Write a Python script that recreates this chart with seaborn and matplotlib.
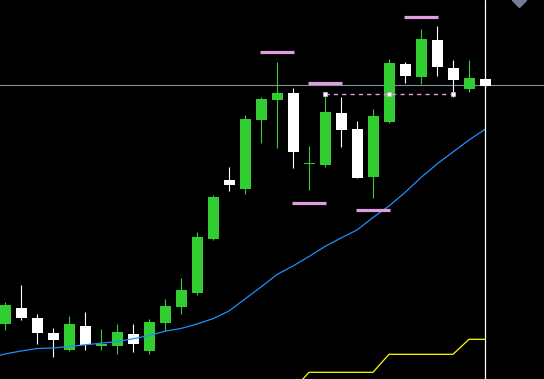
import matplotlib
matplotlib.use("Agg")
import matplotlib.pyplot as plt
import seaborn as sns
import numpy as np
import pandas as pd

# ---- data (price levels) ----
candle_idx = list(range(31))
opens  = [55, 71, 61, 46, 29, 53, 33, 33, 45, 28, 56, 72, 86, 140, 199, 190, 259, 279, 286, 215.5,
          214, 266, 250, 202, 257, 315, 302, 339, 311, 290, 300]
closes = [74, 61, 46, 39, 55, 34, 35, 47, 35, 57, 73, 89, 142, 182, 194, 260, 280, 286, 227, 216.5,
          267, 249, 201, 263, 316, 303, 340, 312, 299, 301, 293]
highs  = [77, 94, 65, 51, 63, 67, 50, 55, 55, 60, 80, 101, 147, 184, 212, 264, 282, 317, 291, 233,
          286, 282, 258, 270, 320, 317, 350, 353, 319, 319, 300]
lows   = [49, 59, 35, 22, 28, 29, 29, 25, 27, 25, 48, 65, 84, 139, 188, 185, 236, 231, 211, 189,
          212, 232, 201, 181, 256, 296, 295, 303, 282, 287, 293]

ma_idx = list(range(-1, 31))
ma_vals = [21, 25, 28, 30.5, 31, 32.5, 34.2, 35.8, 37.5, 40.2, 43.5, 47.8, 50.5, 55, 60.3, 68, 80,
           92, 104.5, 113, 122.5, 132.5, 141, 149, 161.5, 173, 186.5, 201.5, 215, 227, 239, 249.7]

stop_idx = list(range(18, 31))
stop_vals = [-11, 6.7, 6.7, 6.7, 6.7, 6.7, 24.7, 24.7, 24.7, 24.7, 24.7, 39.7, 39.7]

frac_up_idx = [17, 20, 26]
frac_up_vals = [327, 296, 362]
frac_dn_idx = [19, 23]
frac_dn_vals = [176, 169]

level_line = 285          # dashed pink level
level_points = [20, 24, 28]
bid_line = 293.7          # grey horizontal price line
current_idx = 30          # vertical white line

# ---- style ----
sns.set_style("dark", {"axes.facecolor": "black", "figure.facecolor": "black"})
plt.rcParams['font.family'] = ['DejaVu Sans']

W, H = 544, 379
fig = plt.figure(figsize=(W / 100, H / 100), dpi=100)
ax = fig.add_axes([0, 0, 1, 1])
ax.set_facecolor("black")

px = 1 / 16.0   # candle units per pixel
ax.set_xlim(-5 * px, (W - 5) * px)
ax.set_ylim(0, H)

GREEN = "#32cd32"
WHITE = "#ffffff"
PINK = "#dda0dd"

# grey price line (behind candles)
ax.axhline(bid_line, color="#8591a0", lw=0.8, zorder=1)

df = pd.DataFrame({"i": candle_idx, "o": opens, "c": closes, "h": highs, "l": lows})
df["col"] = np.where(df["c"] >= df["o"], GREEN, WHITE)
df["bot"] = df[["o", "c"]].min(axis=1)
df["ht"] = (df["c"] - df["o"]).abs().clip(lower=1)

ax.vlines(df["i"], df["l"], df["h"], colors=df["col"], lw=0.8, zorder=3)
ax.bar(df["i"], df["ht"], bottom=df["bot"], width=11 * px, color=df["col"],
       edgecolor=df["col"], linewidth=0, zorder=4)

# moving average and stop line
ma_df = pd.DataFrame({"i": ma_idx, "v": ma_vals})
sns.lineplot(data=ma_df, x="i", y="v", ax=ax, color="#1e90ff", lw=0.9, zorder=5)
st_df = pd.DataFrame({"i": stop_idx, "v": stop_vals})
sns.lineplot(data=st_df, x="i", y="v", ax=ax, color="#ffff00", lw=0.9, zorder=5)

# fractals
for i, v in zip(frac_up_idx + frac_dn_idx, frac_up_vals + frac_dn_vals):
    ax.hlines(v, i - 17 * px, i + 17 * px, colors=PINK, lw=2.3, zorder=6)

# dashed level
ax.hlines(level_line, level_points[0], level_points[-1], colors=PINK, lw=1.0,
          linestyles=(0, (3, 3)), zorder=6)
ax.plot(level_points, [level_line] * len(level_points), ls="none", marker="s",
        ms=3, mfc=WHITE, mec=PINK, mew=0.6, zorder=7)

# current bar vertical line
ax.axvline(current_idx, color=WHITE, lw=0.9, zorder=8)

# grey marker at the top right
ax.plot([(518.5 - 5) * px], [H], marker="D", ms=7.5, color="#708090", ls="none",
        zorder=9, clip_on=True)

ax.set_xticks([])
ax.set_yticks([])
ax.set_xlabel("")
ax.set_ylabel("")
for s in ax.spines.values():
    s.set_visible(False)

fig.savefig("out.png", dpi=100, facecolor="black")
